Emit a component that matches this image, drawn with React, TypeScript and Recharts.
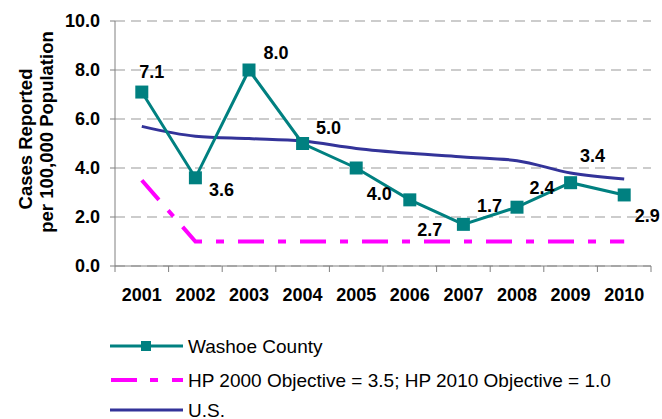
import React from "react";
import {
  LineChart,
  Line,
  XAxis,
  YAxis,
  CartesianGrid,
  LabelList,
} from "recharts";

const years = ["2001", "2002", "2003", "2004", "2005", "2006", "2007", "2008", "2009", "2010"];
const washoe = [7.1, 3.6, 8.0, 5.0, 4.0, 2.7, 1.7, 2.4, 3.4, 2.9];
const hpObjective = [3.5, 1.0, 1.0, 1.0, 1.0, 1.0, 1.0, 1.0, 1.0, 1.0];
const us = [5.7, 5.3, 5.2, 5.1, 4.8, 4.6, 4.45, 4.3, 3.8, 3.55];
const yTicks = [0, 2, 4, 6, 8, 10];

// label nudges (dx, dy) so the value labels sit where the original has them
const labelNudge: [number, number][] = [
  [10, -20], [26, 12], [27, -17], [26, -16], [23, 26],
  [20, 30], [26, -18], [25, -19], [22, -27], [23, 21],
];

const FONT = '"Liberation Sans", Arial, sans-serif';
const TEAL = "#008080";
const MAGENTA = "#FF00FF";
const NAVY = "#333399";

const W = 662;
const H = 310;
const M = { top: 21, right: 11, left: 0, bottom: 0 };
const Y_W = 115;
const BAND = (W - M.left - M.right - Y_W) / years.length;

const data = years.map((year, i) => ({
  year,
  washoe: washoe[i],
  hp: hpObjective[i],
  us: us[i],
}));

const SquareDot = (props: any) => {
  const { cx, cy } = props;
  if (cx == null || cy == null) return null;
  return <rect x={cx - 6.5} y={cy - 6.5} width={13} height={13} fill={TEAL} />;
};

const XTick = (props: any) => {
  const { x, y, payload, index } = props;
  return (
    <g>
      <line x1={x - BAND / 2} x2={x - BAND / 2} y1={y} y2={y + 6} stroke="#808080" />
      {index === years.length - 1 && (
        <line x1={x + BAND / 2} x2={x + BAND / 2} y1={y} y2={y + 6} stroke="#808080" />
      )}
      <text
        x={x}
        y={y + 35}
        textAnchor="middle"
        fontFamily={FONT}
        fontWeight="bold"
        fontSize={18}
        fill="#000"
      >
        {payload.value}
      </text>
    </g>
  );
};

const ValueLabel = (props: any) => {
  const { x, y, value, index } = props;
  const [dx, dy] = labelNudge[index] || [0, 0];
  return (
    <text
      x={x + dx}
      y={y + dy}
      textAnchor="middle"
      dominantBaseline="central"
      fontFamily={FONT}
      fontWeight="bold"
      fontSize={18}
      fill="#000"
    >
      {Number(value).toFixed(1)}
    </text>
  );
};

const YTitle = () => (
  <g fontFamily={FONT} fontWeight="bold" fontSize={18.5} fill="#000">
    <text transform="translate(32,139) rotate(-90)" textAnchor="middle">
      Cases Reported
    </text>
    <text transform="translate(53,132) rotate(-90)" textAnchor="middle">
      per 100,000 Population
    </text>
  </g>
);

const ChartLegend = () => {
  const rows = [
    { name: "Washoe County", y: 346, kind: "washoe" },
    { name: "HP 2000 Objective = 3.5; HP 2010 Objective = 1.0", y: 380, kind: "hp" },
    { name: "U.S.", y: 410, kind: "us" },
  ];
  return (
    <svg width={W} height={419} style={{ position: "absolute", left: 0, top: 0 }}>
      {rows.map((r) => (
        <g key={r.kind}>
          {r.kind === "washoe" && (
            <g>
              <line x1={110} x2={183} y1={r.y} y2={r.y} stroke={TEAL} strokeWidth={3} />
              <rect x={141} y={r.y - 5} width={10} height={10} fill={TEAL} />
            </g>
          )}
          {r.kind === "hp" && (
            <line
              x1={111}
              x2={183}
              y1={r.y}
              y2={r.y}
              stroke={MAGENTA}
              strokeWidth={4}
              strokeDasharray="26 13 8 14"
            />
          )}
          {r.kind === "us" && (
            <line x1={110} x2={183} y1={r.y} y2={r.y} stroke={NAVY} strokeWidth={3} />
          )}
          <text
            x={188}
            y={r.y}
            dominantBaseline="central"
            fontFamily={FONT}
            fontSize={19}
            fill="#000"
          >
            {r.name}
          </text>
        </g>
      ))}
    </svg>
  );
};

export default function App() {
  return (
    <div style={{ position: "absolute", left: 0, top: 0, width: W, height: 419, background: "#fff" }}>
      <LineChart width={W} height={H} data={data} margin={M}>
        <CartesianGrid vertical={false} stroke="#999" strokeDasharray="10 6" />
        <XAxis
          dataKey="year"
          height={44}
          tickLine={false}
          tickSize={0}
          tickMargin={0}
          stroke="#808080"
          tick={<XTick />}
          interval={0}
          padding={{ left: BAND / 2, right: BAND / 2 }}
        />
        <YAxis
          width={Y_W}
          domain={[0, 10]}
          ticks={yTicks}
          tickFormatter={(v: number) => v.toFixed(1)}
          tickSize={5}
          tickMargin={10}
          stroke="#808080"
          tick={{ fill: "#000", fontFamily: FONT, fontWeight: "bold", fontSize: 18 }}
          label={{ content: () => <YTitle /> }}
        />
        <Line
          dataKey="hp"
          stroke={MAGENTA}
          strokeWidth={4}
          strokeDasharray="26 14 8 14"
          dot={false}
          isAnimationActive={false}
        />
        <Line
          dataKey="us"
          type="monotone"
          stroke={NAVY}
          strokeWidth={3}
          dot={false}
          isAnimationActive={false}
        />
        <Line
          dataKey="washoe"
          stroke={TEAL}
          strokeWidth={3}
          dot={<SquareDot />}
          isAnimationActive={false}
        >
          <LabelList dataKey="washoe" content={<ValueLabel />} />
        </Line>
      </LineChart>
      <ChartLegend />
    </div>
  );
}
